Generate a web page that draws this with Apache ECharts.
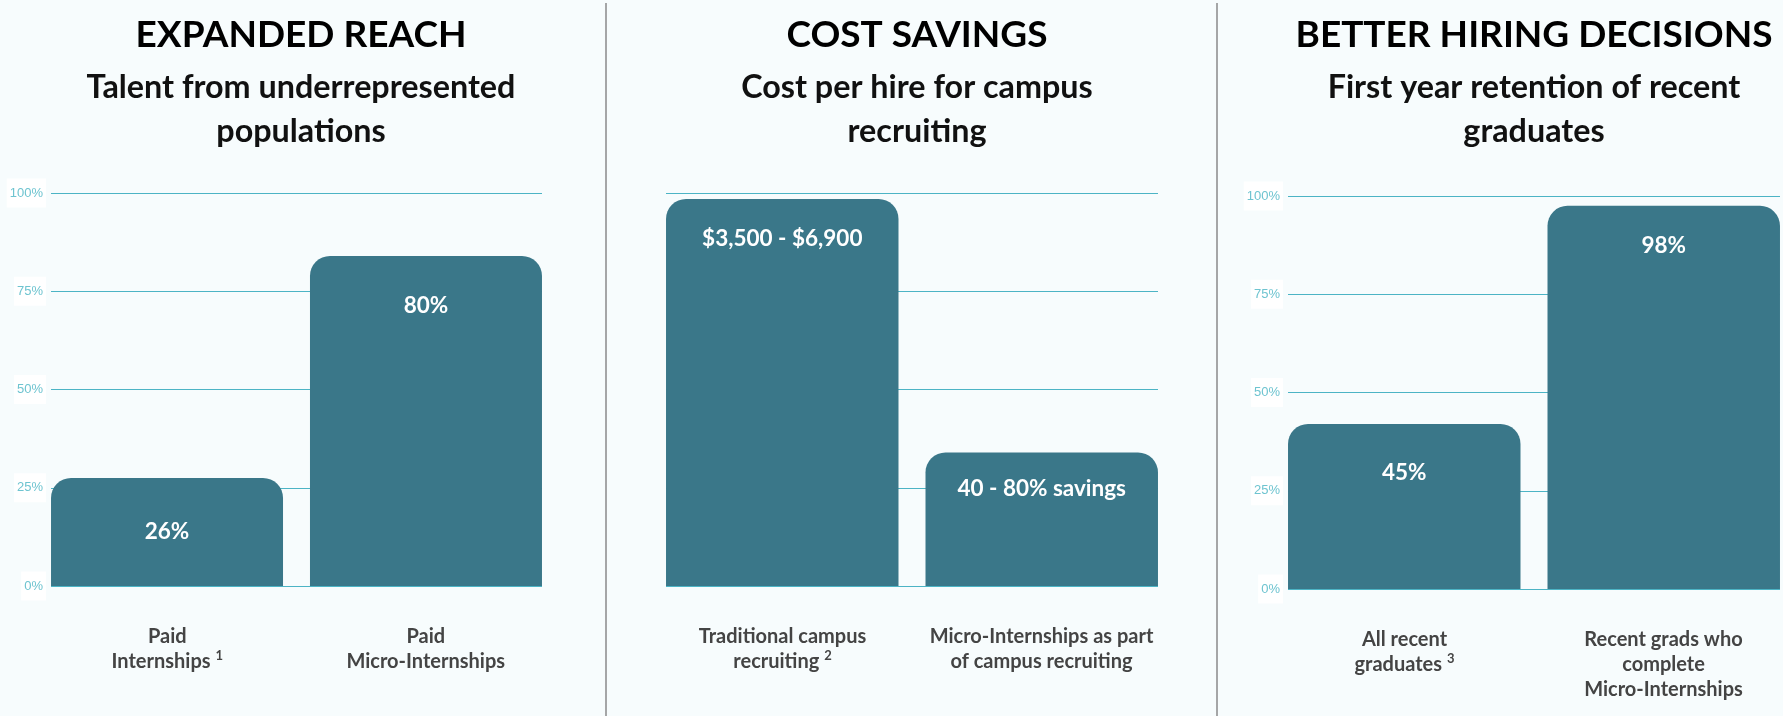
<!DOCTYPE html>
<html>
<head>
<meta charset="utf-8">
<script src="https://cdn.jsdelivr.net/npm/echarts@6/dist/echarts.min.js"></script>
<style>
  html, body { margin: 0; padding: 0; background: #f7fcfd; }
  #chart { width: 1783px; height: 716px; }
</style>
</head>
<body>
<div id="chart"></div>
<script>
// títulos de cada panel
const panelTitles = ['EXPANDED REACH', 'COST SAVINGS', 'BETTER HIRING DECISIONS'];
const panelSubtitles = [
    'Talent from underrepresented\npopulations',
    'Cost per hire for campus\nrecruiting',
    'First year retention of recent\ngraduates'
];

// datos (alturas, textos tal cual)
const reachCategories = ['Paid\nInternships ¹', 'Paid\nMicro-Internships'];
const reachValues = [27.5, 84];
const reachLabels = ['26%', '80%'];

const costCategories = ['Traditional campus\nrecruiting ²', 'Micro-Internships as part\nof campus recruiting'];
const costValues = [98.5, 34];
const costLabels = ['$3,500 - $6,900', '40 - 80% savings'];

const hiringCategories = ['All recent\ngraduates ³', 'Recent grads who\ncomplete\nMicro-Internships'];
const hiringValues = [42, 97.5];
const hiringLabels = ['45%', '98%'];

const yTickLabels = ['0%', '25%', '50%', '75%', '100%'];

// layout de cada panel
const panels = [
    { cats: reachCategories, vals: reachValues, labels: reachLabels, left: 51, top: 193, width: 491, center: 301, showY: true, labelDist: [42, 38] },
    { cats: costCategories, vals: costValues, labels: costLabels, left: 666, top: 193, width: 492, center: 917, showY: false, labelDist: [28, 25] },
    { cats: hiringCategories, vals: hiringValues, labels: hiringLabels, left: 1288, top: 196, width: 492, center: 1534, showY: true, labelDist: [37, 28] }
];

const barColor = '#3a7789';
const gridColor = '#4cb4c5';
const font = 'Lato, "Noto Sans", sans-serif';
const supDigits = { '¹': '1', '²': '2', '³': '3' };

const chart = echarts.init(document.getElementById('chart'));

// estilos rich para etiquetas del eje x (desplazadas hacia el centro de cada barra)
const base = { fontFamily: font, fontSize: 20, fontWeight: 'bold', color: '#444', lineHeight: 25 };
const sup = { fontFamily: font, fontSize: 13, fontWeight: 'bold', color: '#444', lineHeight: 11, verticalAlign: 'top', padding: [0, 0, 0, 0] };
const richX = {
    t: base,
    tL: Object.assign({}, base, { padding: [0, 13, 0, 0] }),
    tR: Object.assign({}, base, { padding: [0, 0, 0, 13] }),
    s: sup,
    sL: Object.assign({}, sup, { padding: [0, 13, 0, 0] })
};

function richLine(line, side) {
    const m = line.match(/^(.*?)([¹²³])$/);
    if (!m) return '{t' + side + '|' + line + '}';
    if (side === 'L') return '{t|' + m[1] + '}{sL|' + supDigits[m[2]] + '}';
    return '{tR|' + m[1] + '}{s|' + supDigits[m[2]] + '}';
}

const titles = [], grids = [], xAxes = [], yAxes = [], series = [];

panels.forEach(function (p, i) {
    titles.push({
        text: panelTitles[i],
        subtext: panelSubtitles[i],
        left: p.center,
        top: 13,
        textAlign: 'center',
        padding: 0,
        itemGap: 9,
        textStyle: { fontFamily: font, fontSize: 37, fontWeight: 'bold', color: '#000', lineHeight: 44 },
        subtextStyle: { fontFamily: font, fontSize: 32.3, fontWeight: 'bold', color: '#111', lineHeight: 44 }
    });

    grids.push({ left: p.left, top: p.top, width: p.width, height: 393, outerBoundsMode: 'none' });

    xAxes.push({
        type: 'category',
        gridIndex: i,
        data: p.cats,
        axisLine: { show: false },
        axisTick: { show: false },
        axisLabel: {
            margin: 38,
            interval: 0,
            formatter: function (value, idx) {
                const side = idx === 0 ? 'L' : 'R';
                return value.split('\n').map(function (line) {
                    return richLine(line.trim(), side);
                }).join('\n');
            },
            rich: richX
        }
    });

    yAxes.push({
        type: 'value',
        gridIndex: i,
        min: 0,
        max: 100,
        interval: 25,
        axisLine: { show: false },
        axisTick: { show: false },
        splitLine: { lineStyle: { color: gridColor, width: 1 } },
        axisLabel: {
            show: p.showY,
            margin: 5,
            fontFamily: '"Liberation Sans", Arial, sans-serif',
            fontSize: 13,
            color: '#6ec4d0',
            backgroundColor: '#ffffff',
            padding: [3, 3, 13, 3],
            formatter: function (v, idx) { return yTickLabels[idx]; }
        }
    });

    // una serie por barra para poder pegarlas a los bordes del grid
    [0, 1].forEach(function (k) {
        const data = p.vals.map(function (v, j) { return j === k ? v : '-'; });
        series.push({
            type: 'bar',
            xAxisIndex: i,
            yAxisIndex: i,
            data: data,
            barWidth: '94.5%',
            barGap: '-94.2%',
            itemStyle: { color: barColor, borderRadius: [20, 20, 0, 0] },
            label: {
                show: true,
                position: 'insideTop',
                distance: p.labelDist[k],
                formatter: function () { return p.labels[k]; },
                fontFamily: font,
                fontSize: 22.5,
                fontWeight: 'bold',
                color: '#fff'
            },
            silent: true
        });
    });
});

const option = {
    backgroundColor: '#f7fcfd',
    animation: false,
    title: titles,
    grid: grids,
    xAxis: xAxes,
    yAxis: yAxes,
    series: series,
    graphic: [
        { type: 'line', shape: { x1: 606, y1: 3, x2: 606, y2: 716 }, style: { stroke: '#8a8a8a', lineWidth: 1.5 } },
        { type: 'line', shape: { x1: 1217, y1: 3, x2: 1217, y2: 716 }, style: { stroke: '#8a8a8a', lineWidth: 1.5 } }
    ]
};

chart.setOption(option);
</script>
</body>
</html>
